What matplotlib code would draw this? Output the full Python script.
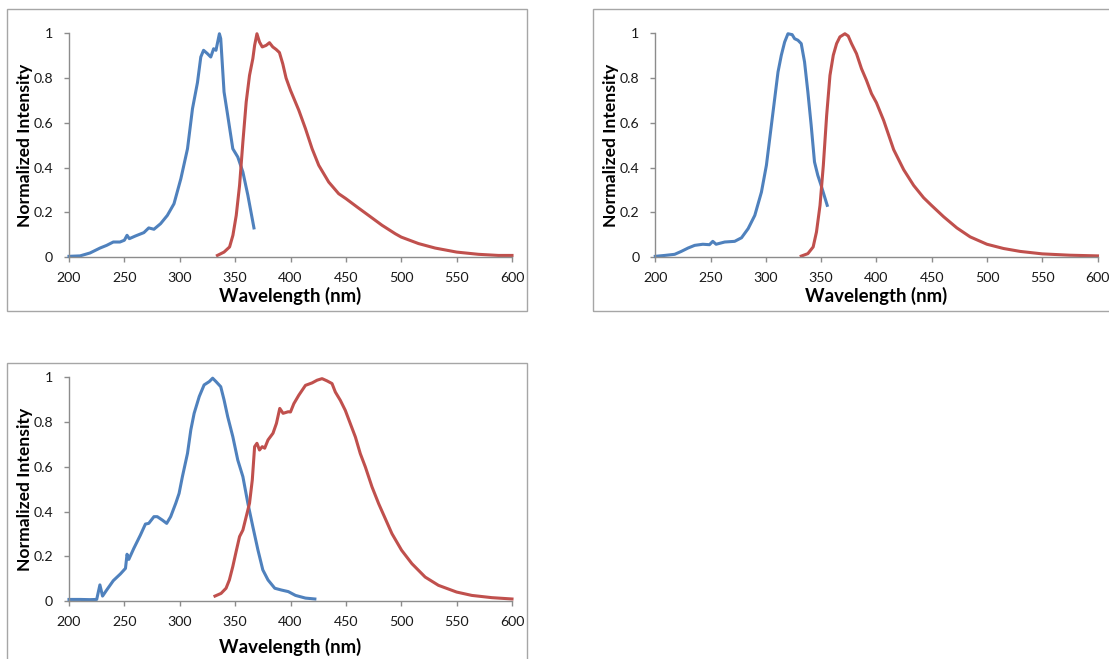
import matplotlib
matplotlib.use("Agg")
import matplotlib.pyplot as plt
from matplotlib.patches import Rectangle

plt.rcParams['font.family'] = ['Lato', 'DejaVu Sans']

# ---------------- data ----------------
p1_ex_nm = [200, 210, 219, 228, 234, 240, 246, 250, 252.4, 254.5, 260, 267.6, 272, 276.7,
            282.7, 288.8, 294.8, 301, 307, 311.5, 316, 319, 321.5, 325, 328, 330.6, 332.7,
            335.8, 337, 340, 343.3, 347.9, 352.4, 357, 361.5, 367]
p1_ex_int = [0.003, 0.005, 0.018, 0.04, 0.052, 0.067, 0.067, 0.075, 0.097, 0.082, 0.094,
             0.109, 0.13, 0.124, 0.149, 0.186, 0.238, 0.35, 0.484, 0.663, 0.78, 0.894, 0.924,
             0.909, 0.894, 0.931, 0.924, 0.998, 0.976, 0.738, 0.633, 0.484, 0.447, 0.38,
             0.276, 0.13]
p1_em_nm = [334, 340, 345, 348, 351, 354, 357, 360, 363, 366, 367.6, 369.7, 372, 374.5, 378,
            381, 384, 387, 390, 393, 396, 400, 407.5, 413.5, 419.5, 425.5, 434.5, 443.5, 450,
            460, 470.5, 482.6, 494.6, 500, 515.6, 530.6, 550, 569.7, 587.7, 600]
p1_em_int = [0.007, 0.022, 0.045, 0.097, 0.186, 0.32, 0.514, 0.693, 0.812, 0.887, 0.946,
             0.998, 0.961, 0.939, 0.946, 0.958, 0.939, 0.928, 0.914, 0.864, 0.80, 0.745,
             0.656, 0.574, 0.484, 0.41, 0.335, 0.283, 0.261, 0.224, 0.186, 0.142, 0.104,
             0.089, 0.06, 0.04, 0.022, 0.012, 0.007, 0.007]

p2_ex_nm = [200, 208.5, 217.5, 223.5, 229.6, 235.6, 243, 249, 252, 255, 262.8, 271.8, 278,
            284, 290, 296, 300.5, 305, 308, 311, 314, 317, 320, 323.8, 326, 329, 332, 335,
            338, 341, 344, 347, 350, 355.5]
p2_ex_int = [0.003, 0.007, 0.012, 0.025, 0.04, 0.052, 0.057, 0.055, 0.07, 0.057, 0.067, 0.07,
             0.086, 0.127, 0.186, 0.29, 0.41, 0.589, 0.708, 0.827, 0.902, 0.961, 0.998,
             0.994, 0.976, 0.969, 0.954, 0.872, 0.738, 0.589, 0.425, 0.365, 0.32, 0.231]
p2_em_nm = [332, 338, 342.8, 345.8, 349, 352, 355, 358, 361, 364, 367, 371.5, 374.5, 377.5,
            382, 386.5, 391, 395.6, 400, 406.6, 415.6, 424.7, 433.7, 442.7, 450, 460.8,
            472.8, 484.8, 500, 515, 530, 550, 575, 600]
p2_em_int = [0.004, 0.015, 0.045, 0.112, 0.231, 0.41, 0.633, 0.812, 0.902, 0.954, 0.984,
             0.998, 0.988, 0.954, 0.909, 0.842, 0.79, 0.73, 0.69, 0.61, 0.48, 0.39, 0.32,
             0.265, 0.23, 0.18, 0.13, 0.09, 0.057, 0.038, 0.025, 0.014, 0.008, 0.005]

p3_ex_nm = [200, 210, 219, 225, 227.9, 230.3, 234, 240, 246.4, 251, 252.4, 254, 258.5, 264.5,
            269, 272, 276.7, 279.7, 284.2, 288.2, 291.8, 296.4, 299.4, 302.4, 307, 310, 313,
            317.6, 322, 326.7, 329.7, 332.7, 337, 340, 343.3, 347.9, 352.4, 357, 361.5, 366,
            370.6, 375, 379.7, 385.8, 391.8, 398, 404.5, 413.5, 422]
p3_ex_int = [0.007, 0.007, 0.006, 0.007, 0.072, 0.022, 0.049, 0.091, 0.121, 0.146, 0.209,
             0.186, 0.235, 0.295, 0.344, 0.347, 0.377, 0.377, 0.362, 0.347, 0.377, 0.437,
             0.481, 0.556, 0.66, 0.765, 0.839, 0.914, 0.966, 0.981, 0.996, 0.981, 0.958,
             0.899, 0.824, 0.735, 0.63, 0.556, 0.437, 0.332, 0.228, 0.139, 0.094, 0.057,
             0.049, 0.042, 0.025, 0.013, 0.009]
p3_em_nm = [331.8, 337.3, 341.8, 344.8, 347.9, 350.9, 354, 357, 360, 363, 365.5, 367.6, 369.7,
            372, 374.5, 376.7, 379.7, 384.2, 387.3, 390.3, 393.3, 397.9, 400, 403, 407.5,
            413.5, 419.5, 424, 428.5, 433, 437.5, 440.5, 445, 449.5, 454, 458.6, 463, 467.6,
            473.6, 479.6, 485.6, 491.6, 500.3, 509.6, 521.6, 533.6, 550, 563.7, 581.7, 600]
p3_em_int = [0.022, 0.034, 0.057, 0.094, 0.154, 0.221, 0.288, 0.317, 0.377, 0.437, 0.541,
             0.69, 0.705, 0.675, 0.69, 0.683, 0.72, 0.75, 0.794, 0.861, 0.839, 0.846, 0.845,
             0.882, 0.92, 0.964, 0.975, 0.987, 0.994, 0.984, 0.972, 0.934, 0.897, 0.852,
             0.793, 0.733, 0.659, 0.599, 0.51, 0.435, 0.368, 0.301, 0.227, 0.167, 0.107,
             0.07, 0.04, 0.025, 0.015, 0.009]

x_ticks = [200, 250, 300, 350, 400, 450, 500, 550, 600]
y_ticks = [0, 0.2, 0.4, 0.6, 0.8, 1]
y_tick_labels = ["0", "0.2", "0.4", "0.6", "0.8", "1"]
x_label = "Wavelength (nm)"
y_label = "Normalized Intensity"

BLUE = "#4F81BD"
RED = "#C0504D"
GRAY = "#8C8C8C"
BORDER = "#A6A6A6"

W, H = 1109, 659
fig = plt.figure(figsize=(W / 100, H / 100), dpi=100)


def frac_rect(x0, x1, ytop, ybot):
    return [x0 / W, 1 - ybot / H, (x1 - x0) / W, (ybot - ytop) / H]


def border(x0, x1, ytop, ybot):
    fig.patches.append(Rectangle((x0 / W, 1 - ybot / H), (x1 - x0) / W, (ybot - ytop) / H,
                                 transform=fig.transFigure, fill=False,
                                 edgecolor=BORDER, linewidth=1.0, zorder=0))


def panel(x0, x1, ytop, ybot, ex_nm, ex_int, em_nm, em_int, xlab_off):
    ax = fig.add_axes(frac_rect(x0, x1, ytop, ybot))
    ax.plot(ex_nm, ex_int, color=BLUE, lw=2.2, solid_joinstyle='round', clip_on=False)
    ax.plot(em_nm, em_int, color=RED, lw=2.2, solid_joinstyle='round', clip_on=False)
    ax.set_xlim(200, 600)
    ax.set_ylim(0, 1)
    ax.set_xticks(x_ticks)
    ax.set_yticks(y_ticks)
    ax.set_yticklabels(y_tick_labels)
    for s in ['top', 'right']:
        ax.spines[s].set_visible(False)
    for s in ['left', 'bottom']:
        ax.spines[s].set_color(GRAY)
        ax.spines[s].set_linewidth(1.0)
    ax.tick_params(axis='both', direction='out', length=3.5, width=1.0, color=GRAY,
                   labelsize=10.2, labelcolor="#1a1a1a")
    ax.tick_params(axis='y', pad=8)
    ax.tick_params(axis='x', pad=7)
    ax.set_xlabel(x_label, fontsize=13.4, fontweight='bold', va='center')
    ax.set_ylabel(y_label, fontsize=12.6, fontweight='bold', va='center')
    wpx = x1 - x0
    hpx = ybot - ytop
    ax.xaxis.set_label_coords(0.5, -xlab_off / hpx)
    ax.yaxis.set_label_coords(-44 / wpx, 0.5)
    ax.patch.set_alpha(0)
    return ax


border(7, 527, 9, 311)
border(593, 1115, 9, 311)
border(7, 527, 362.5, 670)

panel(69, 512, 33.3, 257, p1_ex_nm, p1_ex_int, p1_em_nm, p1_em_int, 38.5)
panel(655.3, 1097.5, 33.3, 257, p2_ex_nm, p2_ex_int, p2_em_nm, p2_em_int, 38.5)
panel(69, 512, 377.3, 601, p3_ex_nm, p3_ex_int, p3_em_nm, p3_em_int, 46)

fig.savefig("out.png", dpi=100)
